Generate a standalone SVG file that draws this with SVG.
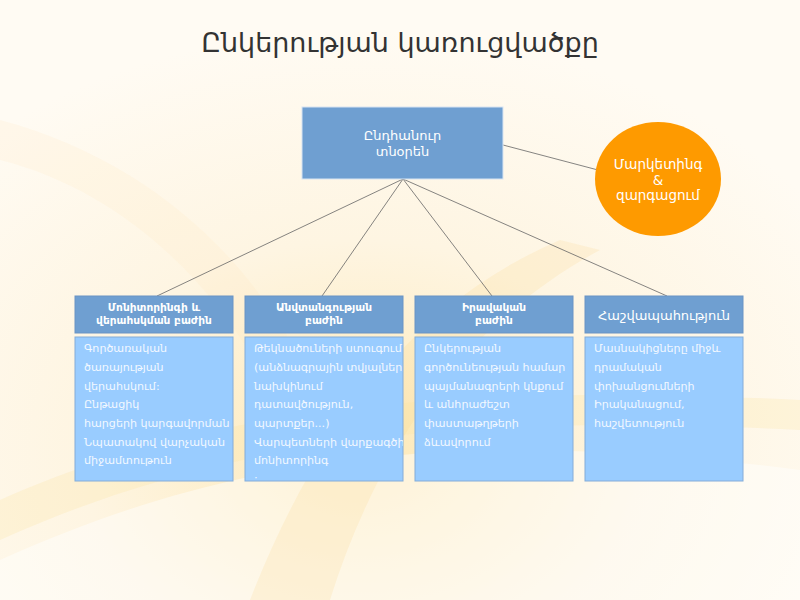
<svg xmlns="http://www.w3.org/2000/svg" width="800" height="600" viewBox="0 0 800 600">
<defs>
<radialGradient id="bg" cx="0.45" cy="0.75" r="0.7">
<stop offset="0" stop-color="#fde9b8"/>
<stop offset="0.5" stop-color="#fef5e2"/>
<stop offset="1" stop-color="#fffbf3"/>
</radialGradient>
<clipPath id="c2"><rect x="245" y="337" width="158" height="144"/></clipPath>
<style>
.hd{fill:#6f9fd1;stroke:#6a93c4;stroke-width:1}
.bx{fill:#99ccff;stroke:#84acd8;stroke-width:1}
.ht{font-family:"DejaVu Sans",sans-serif;font-size:10.6px;font-weight:bold;fill:#fff;text-anchor:middle}
.bt{font-family:"DejaVu Sans",sans-serif;font-size:11.1px;fill:#f2f8ff}
.wt{font-family:"DejaVu Sans",sans-serif;fill:#fff;text-anchor:middle}
.ln{stroke:#666;stroke-width:0.8;fill:none}
</style>
</defs>
<rect width="800" height="600" fill="url(#bg)"/>
<path d="M0 560 C200 470 420 420 800 470 L800 600 L0 600 Z" fill="#fff" opacity="0.45"/>
<path d="M0 500 C180 420 400 380 800 400 L800 430 C420 410 200 450 0 540 Z" fill="#fde2a0" opacity="0.25"/>
<path d="M250 600 C320 420 420 300 560 240 L600 250 C470 320 380 440 330 600 Z" fill="#fcd98a" opacity="0.2"/>
<path d="M0 120 C150 160 250 260 300 360 L260 370 C210 280 120 190 0 160 Z" fill="#fde7b5" opacity="0.15"/>
<text x="400" y="52" font-family="DejaVu Sans,sans-serif" font-size="27" fill="#333" text-anchor="middle">Ընկերության կառուցվածքը</text>
<g id="connectors">
<line class="ln" x1="503" y1="145" x2="598" y2="170"/>
<line class="ln" x1="403" y1="179" x2="157" y2="296"/>
<line class="ln" x1="403" y1="179" x2="322" y2="296"/>
<line class="ln" x1="403" y1="179" x2="492" y2="296"/>
<line class="ln" x1="403" y1="179" x2="667" y2="296"/>
</g>
<g id="ceo">
<rect x="302" y="107" width="201" height="72" fill="#6f9fd1" stroke="#d8e4f2" stroke-width="1"/>
<text class="wt" x="402.5" y="140" font-size="13">Ընդհանուր</text>
<text class="wt" x="402.5" y="156" font-size="13">տնօրեն</text>
</g>
<g id="marketing">
<ellipse cx="658" cy="179" rx="63" ry="57" fill="#fe9a00"/>
<text class="wt" x="658" y="169" font-size="13.5">Մարկետինգ</text>
<text class="wt" x="658" y="185" font-size="13.5">&amp;</text>
<text class="wt" x="658" y="200" font-size="13.5">զարգացում</text>
</g>
<g id="monitoring">
<rect class="hd" x="75" y="296" width="158" height="37"/>
<text class="ht" x="154" y="311">Մոնիտորինգի և</text>
<text class="ht" x="154" y="324">վերահսկման բաժին</text>
<rect class="bx" x="75" y="337" width="158" height="144"/>
<text class="bt" x="84" y="352">Գործառական</text>
<text class="bt" x="84" y="371">ծառայության</text>
<text class="bt" x="84" y="390">վերահսկում:</text>
<text class="bt" x="84" y="408">Ընթացիկ</text>
<text class="bt" x="84" y="427">հարցերի կարգավորման</text>
<text class="bt" x="84" y="446">Նպատակով վարչական</text>
<text class="bt" x="84" y="464">միջամտութուն</text>
</g>
<g id="security">
<rect class="hd" x="245" y="296" width="158" height="37"/>
<text class="ht" x="324" y="311">Անվտանգության</text>
<text class="ht" x="324" y="324">բաժին</text>
<rect class="bx" x="245" y="337" width="158" height="144"/>
<g clip-path="url(#c2)">
<text class="bt" x="254" y="352">Թեկնածուների ստուգում</text>
<text class="bt" x="254" y="371">(անձնագրային տվյալներ,</text>
<text class="bt" x="254" y="390">նախկինում</text>
<text class="bt" x="254" y="408">դատավծություն,</text>
<text class="bt" x="254" y="427">պարտքեր...)</text>
<text class="bt" x="254" y="446">Վարպետների վարքագծի</text>
<text class="bt" x="254" y="464">մոնիտորինգ</text>
<text class="bt" x="254" y="483">;</text>
</g>
</g>
<g id="legal">
<rect class="hd" x="415" y="296" width="158" height="37"/>
<text class="ht" x="494" y="311">Իրավական</text>
<text class="ht" x="494" y="324">բաժին</text>
<rect class="bx" x="415" y="337" width="158" height="144"/>
<text class="bt" x="424" y="352">Ընկերության</text>
<text class="bt" x="424" y="371">գործունեության համար</text>
<text class="bt" x="424" y="390">պայմանագրերի կնքում</text>
<text class="bt" x="424" y="408">և անհրաժեշտ</text>
<text class="bt" x="424" y="427">փաստաթղթերի</text>
<text class="bt" x="424" y="446">ձևավորում</text>
</g>
<g id="accounting">
<rect class="hd" x="585" y="296" width="158" height="37"/>
<text class="wt" x="664" y="320" font-size="13">Հաշվապահություն</text>
<rect class="bx" x="585" y="337" width="158" height="144"/>
<text class="bt" x="594" y="352">Մասնակիցները միջև</text>
<text class="bt" x="594" y="371">դրամական</text>
<text class="bt" x="594" y="390">փոխանցումների</text>
<text class="bt" x="594" y="408">Իրականացում,</text>
<text class="bt" x="594" y="427">հաշվետություն</text>
</g>
</svg>
